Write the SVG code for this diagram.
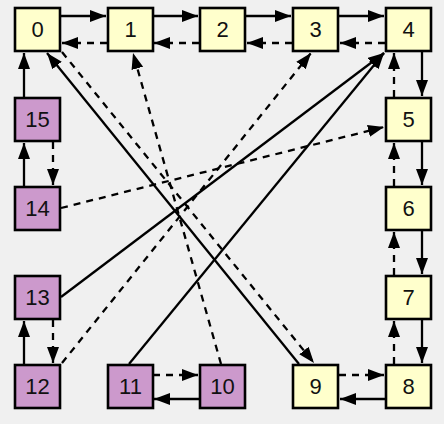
<svg xmlns="http://www.w3.org/2000/svg" width="444" height="424" viewBox="0 0 444 424">
<defs>
<marker id="ah" markerUnits="userSpaceOnUse" markerWidth="18" markerHeight="14" refX="16" refY="6" orient="auto">
<path d="M0,0 L16,6 L0,12 z" fill="#000"/>
</marker>
<style>
.y{fill:#ffffcc;stroke:#000;stroke-width:2.6}
.p{fill:#cc99cc;stroke:#000;stroke-width:2.6}
text{font-family:"Liberation Sans",Arial,sans-serif;font-size:22px;fill:#111;text-anchor:middle;dominant-baseline:central}
.s{stroke:#000;stroke-width:2.3;fill:none;marker-end:url(#ah)}
.d{stroke:#000;stroke-width:2.3;fill:none;stroke-dasharray:7,6;marker-end:url(#ah)}
</style>
</defs>
<rect width="444" height="424" fill="#f0f0f0"/>
<g id="connectors">
<line class="s" x1="61" y1="16" x2="106" y2="16"/>
<line class="d" x1="107" y1="43" x2="62" y2="43"/>
<line class="s" x1="153" y1="16" x2="198" y2="16"/>
<line class="d" x1="199" y1="43" x2="154" y2="43"/>
<line class="s" x1="246" y1="16" x2="291" y2="16"/>
<line class="d" x1="292" y1="43" x2="247" y2="43"/>
<line class="s" x1="339" y1="16" x2="384" y2="16"/>
<line class="d" x1="385" y1="43" x2="340" y2="43"/>
<line class="s" x1="422" y1="52" x2="422" y2="96"/>
<line class="d" x1="394" y1="97" x2="394" y2="53"/>
<line class="s" x1="422" y1="142" x2="422" y2="185"/>
<line class="d" x1="394" y1="186" x2="394" y2="143"/>
<line class="s" x1="422" y1="231" x2="422" y2="274"/>
<line class="d" x1="394" y1="275" x2="394" y2="232"/>
<line class="s" x1="422" y1="320" x2="422" y2="363"/>
<line class="d" x1="394" y1="364" x2="394" y2="321"/>
<line class="s" x1="385" y1="399" x2="340" y2="399"/>
<line class="d" x1="339" y1="375" x2="384" y2="375"/>
<line class="s" x1="199" y1="399" x2="154" y2="399"/>
<line class="d" x1="153" y1="375" x2="198" y2="375"/>
<line class="s" x1="24" y1="364" x2="24" y2="321"/>
<line class="d" x1="53" y1="320" x2="53" y2="363"/>
<line class="s" x1="24" y1="186" x2="24" y2="143"/>
<line class="d" x1="53" y1="142" x2="53" y2="185"/>
<line class="s" x1="24" y1="97" x2="24" y2="53"/>
<line class="s" x1="299" y1="364" x2="47" y2="53"/>
<line class="d" x1="62" y1="52" x2="314" y2="363"/>
<line class="d" x1="221" y1="364" x2="133" y2="53"/>
<line class="s" x1="129" y1="364" x2="384" y2="53"/>
<line class="s" x1="61" y1="297" x2="384" y2="53"/>
<line class="d" x1="61" y1="208" x2="384" y2="127"/>
<line class="d" x1="62" y1="363" x2="311" y2="53"/>
</g>
<g id="n0"><rect class="y" x="15" y="8" width="45" height="43"/><text x="37.5" y="29.5">0</text></g>
<g id="n1"><rect class="y" x="108" y="8" width="45" height="43"/><text x="130.5" y="29.5">1</text></g>
<g id="n2"><rect class="y" x="200" y="8" width="45" height="43"/><text x="222.5" y="29.5">2</text></g>
<g id="n3"><rect class="y" x="293" y="8" width="45" height="43"/><text x="315.5" y="29.5">3</text></g>
<g id="n4"><rect class="y" x="386" y="8" width="45" height="43"/><text x="408.5" y="29.5">4</text></g>
<g id="n5"><rect class="y" x="386" y="98" width="45" height="43"/><text x="408.5" y="119.5">5</text></g>
<g id="n6"><rect class="y" x="386" y="187" width="45" height="43"/><text x="408.5" y="208.5">6</text></g>
<g id="n7"><rect class="y" x="386" y="276" width="45" height="43"/><text x="408.5" y="297.5">7</text></g>
<g id="n8"><rect class="y" x="386" y="365" width="45" height="43"/><text x="408.5" y="386.5">8</text></g>
<g id="n9"><rect class="y" x="293" y="365" width="45" height="43"/><text x="315.5" y="386.5">9</text></g>
<g id="n10"><rect class="p" x="200" y="365" width="45" height="43"/><text x="222.5" y="386.5">10</text></g>
<g id="n11"><rect class="p" x="108" y="365" width="45" height="43"/><text x="130.5" y="386.5">11</text></g>
<g id="n12"><rect class="p" x="15" y="365" width="45" height="43"/><text x="37.5" y="386.5">12</text></g>
<g id="n13"><rect class="p" x="15" y="276" width="45" height="43"/><text x="37.5" y="297.5">13</text></g>
<g id="n14"><rect class="p" x="15" y="187" width="45" height="43"/><text x="37.5" y="208.5">14</text></g>
<g id="n15"><rect class="p" x="15" y="98" width="45" height="43"/><text x="37.5" y="119.5">15</text></g>
</svg>
